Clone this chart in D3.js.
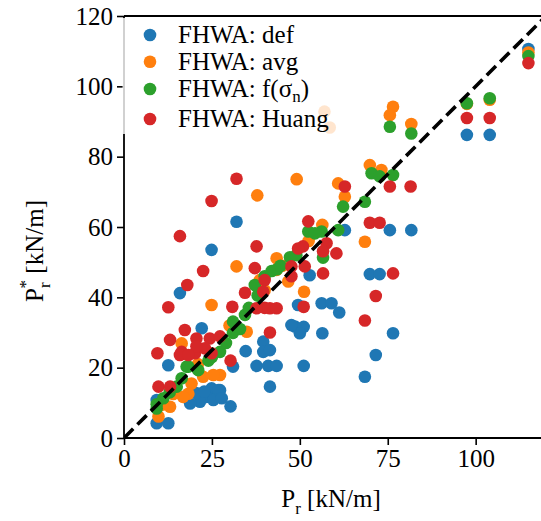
<!DOCTYPE html>
<html>
<head>
<meta charset="utf-8">
<script src="https://cdn.jsdelivr.net/npm/d3@7"></script>
<style>
  html, body { margin: 0; padding: 0; background: #fff; }
  svg { display: block; }
  svg text { font-family: "Times New Roman", Times, "Liberation Serif", Tinos, "Nimbus Roman", "Noto Serif", "DejaVu Serif", FreeSerif, Georgia, serif; }
</style>
</head>
<body>
<svg id="chart" width="541" height="521"></svg>
<script>
// Measured vs predicted pullout resistance, four FHWA variants
const xTicks = [0, 25, 50, 75, 100];
const yTicks = [0, 20, 40, 60, 80, 100, 120];
const axisMax = 120;

const seriesNames = ["FHWA: def", "FHWA: avg", "FHWA: f(σ_n)", "FHWA: Huang"];
const seriesColors = ["#1f77b4", "#ff7f0e", "#2ca02c", "#d62728"];

// [measured Pr, predicted Pr*] in kN/m
const defPts = [
  [115,110.6],[104,86.2],[97.5,86.2],
  [75.6,59.1],[81.7,59.1],[62.8,59.1],
  [69.9,46.6],[72.7,46.6],[52.8,46.3],
  [56.2,38.3],[59,38.3],[61.2,35.7],[49.5,37.8],
  [56.4,29.8],[76.5,29.8],[71.6,23.6],[68.5,17.4],
  [51.1,20.5],[51.1,31.6],[48.6,31.7],[50,29.8],[47.6,32.1],
  [39.6,27.4],[39.6,24.5],[41.5,25],[34.6,24.7],
  [37.7,20.5],[41,20.5],[43.4,20.5],[31,20.3],
  [41.5,14.6],[30.3,9],[27.3,13.6],
  [32,61.5],[24.9,53.5],[15.9,41.2],[22.1,31.2],[12.6,20.7],
  [24.9,14.1],[26.8,13.6],[23.5,11.7],[21.6,10.3],[18.8,9.8],[25.4,10.8],[27.8,11.3],[20.5,12.8],[22.8,13.2],
  [9.3,10.8],[9.3,4.2],[12.6,4.2]
];

const avgPts = [
  [115,109.6],[104,96.2],[97.5,95],
  [76.5,94.2],[75.6,91.8],[81.7,89.3],[57,92.8],[58.5,88.3],
  [69.9,77.6],[73.2,76.2],[60.9,72.4],[62.8,68.6],[68.5,55.8],[56.4,60.6],
  [49.1,73.6],[37.9,69],[32,48.8],[24.9,37.8],[16.4,26.9],
  [43.4,51.1],[43.4,47.8],[46.7,44.5],[51.2,41.6],[38.6,44.9],[34.9,30.2],
  [27.3,17.9],[25.4,17.9],[22.5,17.4],[19.2,15.5],[18.3,12.6],[16.8,11.7],[13.1,8.9],[9.8,6.1],
  [40,42],[45,49],[30,32],[21,21],[14,12.5],[11,9.5],[52.5,56]
];

const fsnPts = [
  [115,108.6],[104,96.6],[97.5,95.2],[75.6,88.5],[81.7,86.6],
  [70.4,75.3],[72.7,74.4],[76.5,74.8],[62.3,65.8],[68.5,67.2],
  [60.9,59.1],[56.2,58.7],[52.4,58.7],[54.3,58.2],[47.2,51.4],[49,52],[56.6,51.3],
  [38,40.5],[39.5,41.5],[37.2,43.5],[40,46],[42,47.5],[43.5,48],
  [31,33.1],[31,29.9],[34.4,35],[33,31],[27.3,24.5],[25,23],
  [17.8,20.3],[21.1,19.3],[16.4,17],[15,14.6],[11.2,11.3],[9.3,8.4],[9.3,9.6],
  [18.3,20.3],[24,22],[29,27],[35.5,37],[44.5,49],[13,13]
];

const huangPts = [
  [115,106.6],[104,91],[97.5,91],[75.6,71.5],[81.5,71.5],[62.8,71.5],
  [69.9,61.2],[72.7,61.2],[76.5,46.8],[71.6,40.4],[68.5,33.4],
  [52.4,61.6],[57.6,55.4],[60.4,52.5],[50.9,54.5],[56.6,53.1],[49.5,53.9],
  [56.6,46.8],[51.4,48.8],[47.6,48.8],[47.6,46],[51.1,37.3],
  [41.5,36.9],[43.4,36.9],[40,37],[37.7,36.9],[41.5,30],
  [37.2,48.3],[37.7,54.5],[40,44.9],[39.6,41.6],[34.4,41.3],[30.8,37.3],[30.3,22],
  [32,73.7],[24.9,67.4],[15.9,57.4],[22.5,47.5],[18,43.5],[12.6,37.2],
  [17.3,30.7],[13.1,27.9],[20.6,28.3],[24.4,28.3],[27.3,28.9],
  [16.4,24.5],[20.2,24.1],[23,25.5],[24.9,24.1],[20.6,26.1],
  [9.5,24.1],[15.9,23.6],[18.3,23.6],[9.8,14.6],[13.1,14.6]
];

const seriesData = [defPts, avgPts, fsnPts, huangPts];

const plot = { left: 124, right: 546, top: 16, bottom: 438 };
const fontSize = 25;

const svg = d3.select("#chart");

const x = d3.scaleLinear().domain([0, axisMax]).range([plot.left, plot.right]);
const y = d3.scaleLinear().domain([0, axisMax]).range([plot.bottom, plot.top]);

// write "a_b" strings as text with a subscript tspan
function richText(sel, str, subSize) {
  const parts = str.split("_");
  sel.append("tspan").text(parts[0]);
  if (parts.length > 1) {
    const m = parts[1].match(/^(.)(.*)$/);
    sel.append("tspan").attr("font-size", subSize).attr("dy", 5).text(m[1]);
    sel.append("tspan").attr("dy", -5).text(m[2]);
  }
}

svg.append("defs").append("clipPath").attr("id", "plotclip")
  .append("rect")
  .attr("x", plot.left).attr("y", plot.top)
  .attr("width", plot.right - plot.left).attr("height", plot.bottom - plot.top);

const pg = svg.append("g").attr("clip-path", "url(#plotclip)");

// scatter series, drawn in order so Huang sits on top
seriesData.forEach((pts, i) => {
  pg.append("g").selectAll("circle")
    .data(pts)
    .join("circle")
    .attr("cx", d => x(d[0]))
    .attr("cy", d => y(d[1]))
    .attr("r", 6.3)
    .attr("fill", seriesColors[i]);
});

// 1:1 reference line
pg.append("line")
  .attr("x1", x(0)).attr("y1", y(0))
  .attr("x2", x(axisMax)).attr("y2", y(axisMax))
  .attr("stroke", "#000")
  .attr("stroke-width", 3.6)
  .attr("stroke-dasharray", "13,6");

// axes
const xAxis = svg.append("g")
  .attr("transform", `translate(0,${plot.bottom})`)
  .call(d3.axisBottom(x).tickValues(xTicks).tickSize(7).tickPadding(4).tickFormat(d3.format("d")));
const yAxis = svg.append("g")
  .attr("transform", `translate(${plot.left},0)`)
  .call(d3.axisLeft(y).tickValues(yTicks).tickSize(7).tickPadding(4).tickFormat(d3.format("d")));
[xAxis, yAxis].forEach(a => {
  a.attr("font-family", null).attr("font-size", fontSize);
  a.select(".domain").remove();
  a.selectAll(".tick line").attr("stroke", "#000").attr("stroke-width", 1.6);
  a.selectAll(".tick text").attr("fill", "#000");
});

// spines
const spines = svg.append("g").attr("stroke", "#000").attr("stroke-width", 1.8).attr("fill", "none");
spines.append("line").attr("x1", plot.left).attr("x2", plot.left).attr("y1", plot.top).attr("y2", plot.bottom);
spines.append("line").attr("x1", plot.left).attr("x2", plot.right).attr("y1", plot.bottom).attr("y2", plot.bottom);
spines.append("line").attr("x1", plot.left).attr("x2", plot.right).attr("y1", plot.top).attr("y2", plot.top);

// legend with translucent white frame; the σ_n row is a little taller
const legend = svg.append("g");
legend.append("rect")
  .attr("x", 122.5).attr("y", 18)
  .attr("width", 222).attr("height", 116)
  .attr("fill", "#fff").attr("fill-opacity", 0.8);
const legendRows = [35, 61.7, 89, 119];
seriesNames.forEach((name, i) => {
  const ly = legendRows[i];
  legend.append("circle")
    .attr("cx", 150).attr("cy", ly).attr("r", 6.3)
    .attr("fill", seriesColors[i]);
  const t = legend.append("text")
    .attr("x", 178).attr("y", ly + 8)
    .attr("font-size", fontSize)
    .attr("fill", "#000");
  richText(t, name, 17);
});

// x-axis title
const xt = svg.append("text")
  .attr("x", (plot.left + plot.right) / 2 - 4)
  .attr("y", 507)
  .attr("text-anchor", "middle")
  .attr("font-size", fontSize);
xt.append("tspan").text("P");
xt.append("tspan").attr("font-size", 17).attr("dy", 7).text("r");
xt.append("tspan").attr("dy", -7).text(" [kN/m]");

// y-axis title: P with stacked subscript r and superscript *
const yt = svg.append("text")
  .attr("transform", `translate(43,251) rotate(-90)`)
  .attr("text-anchor", "middle")
  .attr("font-size", fontSize);
yt.append("tspan").text("P");
yt.append("tspan").attr("font-size", 17).attr("dy", 7).text("r");
yt.append("tspan").attr("font-size", 17).attr("dx", -6).attr("dy", -19).text("*");
yt.append("tspan").attr("dy", 12).text(" [kN/m]");
</script>
</body>
</html>
